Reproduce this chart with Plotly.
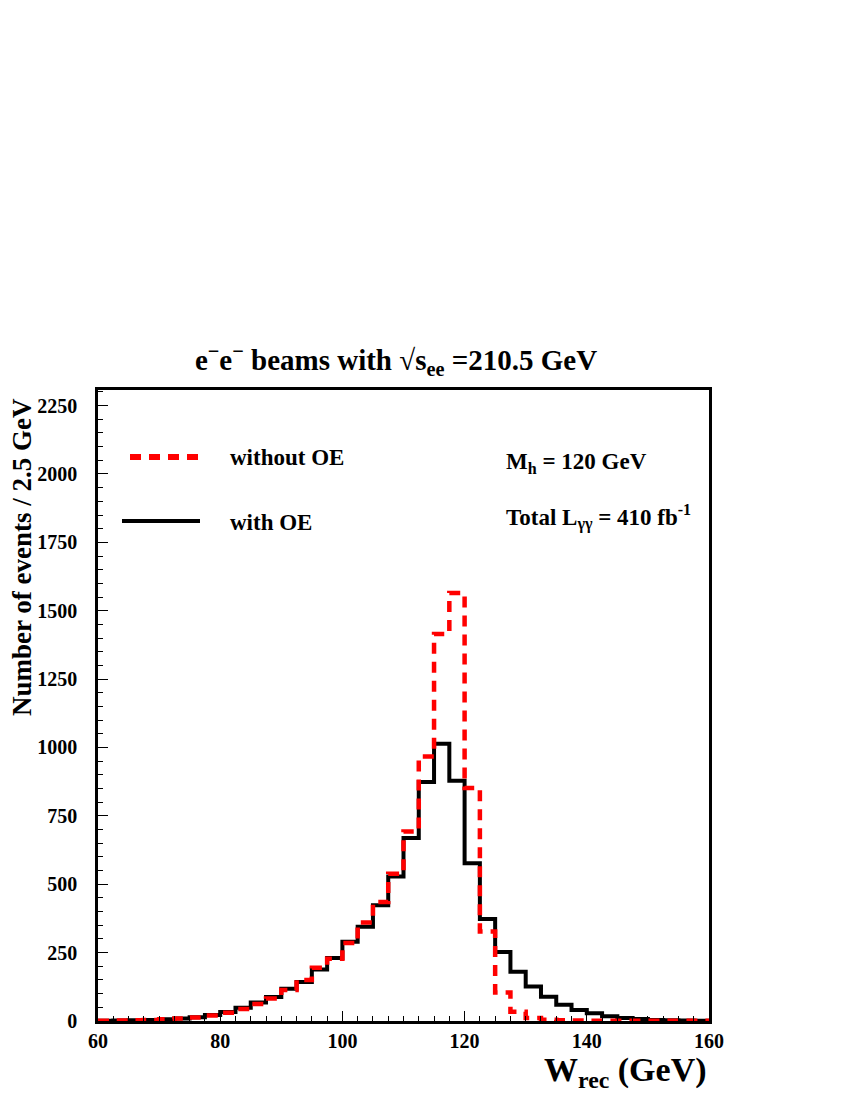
import numpy as np
import plotly.graph_objects as go

# 2.5 GeV bins from 60 to 160 GeV
BIN_WIDTH = 2.5
bin_low = np.arange(60, 160, BIN_WIDTH)

# events per bin
with_oe = [1, 2, 3, 4, 6, 9, 14, 22, 33, 48,
           68, 88, 118, 143, 188, 230, 290, 345, 423, 528,
           669, 874, 1014, 878, 577, 373, 252, 180, 126, 89,
           59, 40, 28, 17, 11, 7, 4, 3, 2, 1]
without_oe = [1, 2, 3, 4, 6, 9, 13, 20, 30, 44,
              62, 82, 113, 150, 195, 228, 285, 360, 435, 538,
              693, 967, 1415, 1565, 852, 327, 104, 34, 11, 5,
              3, 2, 1, 1, 1, 1, 1, 1, 1, 1]

x_ticks = [60, 80, 100, 120, 140, 160]
y_ticks = [0, 250, 500, 750, 1000, 1250, 1500, 1750, 2000, 2250]

FONT = "Liberation Serif"
RED = "#ff0000"

# page body has an 8px margin, so the figure is laid out in shifted pixels
OFF = 8
PL, PR, PT, PB = 98 - OFF, 709 - OFF, 390 - OFF, 1021 - OFF
W, H = 842, 1092


def px_x(p):
    return (p - OFF - PL) / (PR - PL)


def px_y(p):
    return (PB - (p - OFF)) / (PB - PT)


def step_xy(vals):
    # histogram outline: each bin top runs to the next edge
    xs = list(bin_low) + [bin_low[-1] + BIN_WIDTH]
    ys = list(vals) + [vals[-1]]
    return xs, ys


fig = go.Figure()
x, y = step_xy(with_oe)
fig.add_trace(go.Scatter(x=x, y=y, mode="lines", line_shape="hv",
                         line=dict(color="black", width=4), name="with OE"))
x, y = step_xy(without_oe)
fig.add_trace(go.Scatter(x=x, y=y, mode="lines", line_shape="hv",
                         line=dict(color=RED, width=4.5, dash="11px,8px"),
                         name="without OE"))

axis_common = dict(showgrid=False, zeroline=False, showline=True, linecolor="black",
                   linewidth=2.5, mirror=True, ticks="inside", tickcolor="black",
                   tickwidth=1)

fig.update_xaxes(range=[60, 160], tickvals=x_ticks, ticklen=10,
                 tickfont=dict(family=FONT, size=20, color="black", weight="bold"),
                 minor=dict(ticks="inside", dtick=2.5, tick0=60, ticklen=5, tickcolor="black"),
                 **axis_common)
fig.update_yaxes(range=[0, 2307], tickvals=y_ticks, ticklen=10, ticklabelstandoff=14,
                 tickfont=dict(family=FONT, size=20, color="black", weight="bold"),
                 minor=dict(ticks="inside", dtick=50, tick0=0, ticklen=5, tickcolor="black"),
                 **axis_common)

# legend drawn by hand to match the long line samples
fig.add_shape(type="line", xref="paper", yref="paper", x0=px_x(130), x1=px_x(200),
              y0=px_y(457), y1=px_y(457),
              line=dict(color=RED, width=6, dash="11px,8px"))
fig.add_shape(type="line", xref="paper", yref="paper", x0=px_x(122), x1=px_x(200),
              y0=px_y(521), y1=px_y(521),
              line=dict(color="black", width=4))

txt_font = dict(family=FONT, size=23, color="black", weight="bold")
for label, ax, ay in [("without OE", 228, 457), ("with OE", 228, 522),
                      ("M<sub>h</sub> = 120 GeV", 504, 463),
                      ("Total L<sub>γγ</sub> = 410 fb<sup>-1</sup>", 504, 517)]:
    fig.add_annotation(text=label, xref="paper", yref="paper",
                       x=px_x(ax), y=px_y(ay),
                       xanchor="left", yanchor="middle", showarrow=False, font=txt_font)

fig.add_annotation(text="Number of events / 2.5 GeV", textangle=-90,
                   xref="paper", yref="paper", x=px_x(22), y=px_y(396),
                   xanchor="center", yanchor="top", showarrow=False,
                   font=dict(family=FONT, size=27, color="black", weight="bold"))
fig.add_annotation(text="W<sub>rec</sub> (GeV)", xref="paper", yref="paper",
                   x=1, y=px_y(1072), xanchor="right", yanchor="middle", showarrow=False,
                   font=dict(family=FONT, size=34, color="black", weight="bold"))

fig.update_layout(
    width=W, height=H,
    margin=dict(l=PL, r=W - PR, t=PT, b=H - PB),
    plot_bgcolor="white", paper_bgcolor="white",
    showlegend=False,
    title=dict(text="e<sup>−</sup>e<sup>−</sup> beams with √s<sub>ee</sub> =210.5 GeV",
               x=(396 - OFF) / W, xanchor="center", y=1 - (360 - OFF) / H, yanchor="middle",
               font=dict(family=FONT, size=29, color="black", weight="bold")),
)

fig.write_html("out.html")
